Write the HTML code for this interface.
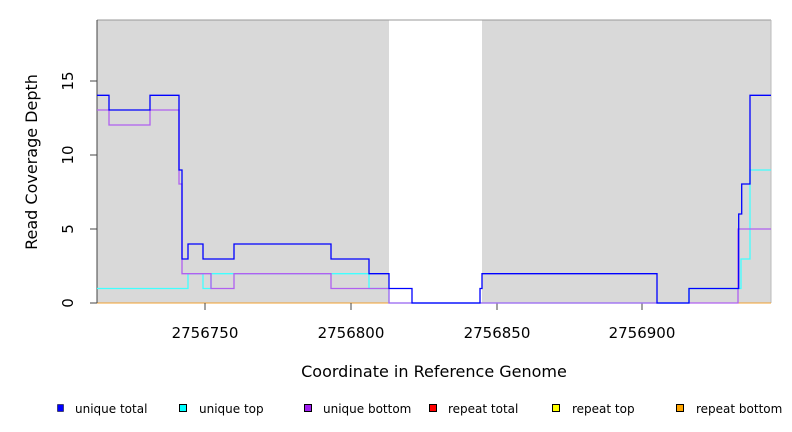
<!DOCTYPE html>
<html><head><style>body{margin:0;background:#fff}svg{display:block}text{font-family:"DejaVu Sans","Liberation Sans",sans-serif}</style></head><body>
<svg width="792" height="432" viewBox="0 0 792 432">
<rect x="97" y="20" width="674" height="283" fill="#d9d9d9"/>
<rect x="389" y="20" width="93" height="283" fill="#fff"/>
<line x1="97" y1="20" x2="771" y2="20" stroke="#999"/>
<line x1="771" y1="20" x2="771" y2="303" stroke="#bbb"/>
<line x1="97" y1="303" x2="771" y2="303" stroke="#f0a030" stroke-width="1"/>
<line x1="97" y1="20" x2="97" y2="303" stroke="#444"/>
<g stroke="#444"><line x1="90" y1="81" x2="97" y2="81"/><line x1="90" y1="155" x2="97" y2="155"/><line x1="90" y1="229" x2="97" y2="229"/><line x1="90" y1="303" x2="97" y2="303"/>
<line x1="205" y1="303" x2="205" y2="310"/><line x1="351" y1="303" x2="351" y2="310"/><line x1="497" y1="303" x2="497" y2="310"/><line x1="642" y1="303" x2="642" y2="310"/></g>
<g font-size="15" fill="#000" text-anchor="middle">
<text transform="translate(73,81) rotate(-90)">15</text>
<text transform="translate(73,155) rotate(-90)">10</text>
<text transform="translate(73,229) rotate(-90)">5</text>
<text transform="translate(73,303) rotate(-90)">0</text>
<text x="205" y="338">2756750</text><text x="351" y="338">2756800</text><text x="497" y="338">2756850</text><text x="642" y="338">2756900</text>
<text x="434" y="377" font-size="16">Coordinate in Reference Genome</text>
<text transform="translate(37,162) rotate(-90)" font-size="16">Read Coverage Depth</text>
</g>
<g fill="none" stroke-width="1.3">
<path stroke="#40ffff" d="M97,288.5H188V273.7H203V288.5H211V273.7H369V288.5H389V303H689V288.5H741V259H750V170H771"/>
<path stroke="#b060f0" d="M97,110H109V125H150V110H179V184H182V273.7H211V288.5H234V273.7H331V288.5H369V288.5H389V303H738V229H771"/>
<path stroke="#0000ff" d="M97,95.3H109V110H150V95.3H179V170H182V259H188V244H203V259H234V244H331V259H369V273.7H389V288.5H412V303H480V288.5H482V273.7H657V303H689V288.5H738.7V214H741.7V184H750V95.3H771"/>
</g>
<g font-size="12" fill="#000">
<rect x="57.5" y="404.5" width="6" height="7" fill="#0000ff" stroke="#000" stroke-width="0.5"/><text x="75" y="413">unique total</text>
<rect x="179.5" y="404.5" width="7" height="7" fill="#00ffff" stroke="#000"/><text x="199" y="413">unique top</text>
<rect x="304.5" y="404.5" width="7" height="7" fill="#a020f0" stroke="#000"/><text x="323" y="413">unique bottom</text>
<rect x="429.5" y="404.5" width="7" height="7" fill="#ff0000" stroke="#000"/><text x="448" y="413">repeat total</text>
<rect x="552.5" y="404.5" width="7" height="7" fill="#ffff00" stroke="#000"/><text x="572" y="413">repeat top</text>
<rect x="676.5" y="404.5" width="7" height="7" fill="#ffa500" stroke="#000"/><text x="696" y="413">repeat bottom</text>
</g>
</svg>
</body></html>
